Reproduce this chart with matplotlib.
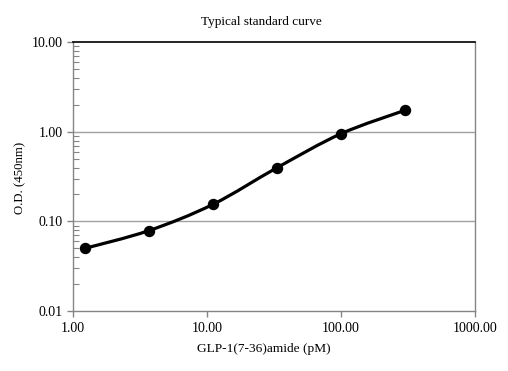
import numpy as np
import matplotlib
matplotlib.use("Agg")
import matplotlib.pyplot as plt
from matplotlib.path import Path
from matplotlib.patches import PathPatch
from matplotlib.ticker import FixedLocator, FuncFormatter, LogLocator, NullFormatter

# Data
conc_pM = [1.23, 3.70, 11.1, 33.3, 100.0, 300.0]
od_450 = [0.050, 0.079, 0.155, 0.397, 0.952, 1.74]
x_ticks = [1, 10, 100, 1000]
y_ticks = [0.01, 0.1, 1, 10]
title = "Typical standard curve"
xlabel = "GLP-1(7-36)amide (pM)"
ylabel = "O.D. (450nm)"

plt.rcParams['font.family'] = ['Liberation Serif', 'DejaVu Serif']

fig = plt.figure(figsize=(5.08, 3.71), dpi=100)
ax = fig.add_axes([72.7/508, 1 - 311/371, (475-72.7)/508, (311-42.3)/371])
ax.set_xscale('log')
ax.set_yscale('log')
ax.set_xlim(1, 1000)
ax.set_ylim(0.01, 10)

# Smoothed line (Catmull-Rom style Bezier in log space, like spreadsheet smoothing)
lx = np.log10(conc_pM)
ly = np.log10(od_450)
n = len(lx)
verts = [(conc_pM[0], od_450[0])]
codes = [Path.MOVETO]
for i in range(n - 1):
    p0 = np.array([lx[max(i-1, 0)], ly[max(i-1, 0)]])
    p1 = np.array([lx[i], ly[i]])
    p2 = np.array([lx[i+1], ly[i+1]])
    p3 = np.array([lx[min(i+2, n-1)], ly[min(i+2, n-1)]])
    c1 = p1 + (p2 - p0) / 6.0
    c2 = p2 - (p3 - p1) / 6.0
    for c in (c1, c2, p2):
        verts.append((10**c[0], 10**c[1]))
        codes.append(Path.CURVE4)
ax.add_patch(PathPatch(Path(verts, codes), facecolor='none', edgecolor='black',
                       lw=2.3, zorder=3, capstyle='round', joinstyle='round'))
ax.plot(conc_pM, od_450, 'o', color='black', markersize=7.2, zorder=4)

# Grid
ax.set_axisbelow(True)
for yv in y_ticks[1:-1]:
    ax.axhline(yv, color='#a0a0a0', lw=1.0, zorder=1)

# Spines
for s in ['left', 'bottom', 'right']:
    ax.spines[s].set_color('#858585')
    ax.spines[s].set_linewidth(1.0)
ax.spines['top'].set_color('black')
ax.spines['top'].set_linewidth(1.2)

ax.xaxis.set_major_locator(FixedLocator(x_ticks))
ax.xaxis.set_minor_locator(FixedLocator([]))
ax.yaxis.set_major_locator(FixedLocator(y_ticks))
ax.yaxis.set_minor_locator(LogLocator(base=10, subs=np.arange(2, 10)))
ax.yaxis.set_minor_formatter(NullFormatter())
fmt = FuncFormatter(lambda v, p: f"{v:.2f}")
ax.xaxis.set_major_formatter(fmt)
ax.yaxis.set_major_formatter(fmt)

ax.tick_params(axis='both', which='major', direction='out', length=4, width=1,
               color='#858585', labelsize=10, labelcolor='black')
ax.tick_params(axis='x', which='major', pad=4)
ax.tick_params(axis='y', which='major', pad=3)
ax.tick_params(axis='y', which='minor', direction='in', length=4, width=0.8,
               color='#858585')

fig.text(264 / 508, 1 - 349 / 371, xlabel, ha='center', va='center', fontsize=9.6)
fig.text(20 / 508, 1 - 178 / 371, ylabel, ha='center', va='center', fontsize=9.2,
         rotation=90)
fig.text(261.5 / 508, 1 - 21.5 / 371, title, ha='center', va='center', fontsize=9.5)

fig.savefig("out.png", dpi=100)
